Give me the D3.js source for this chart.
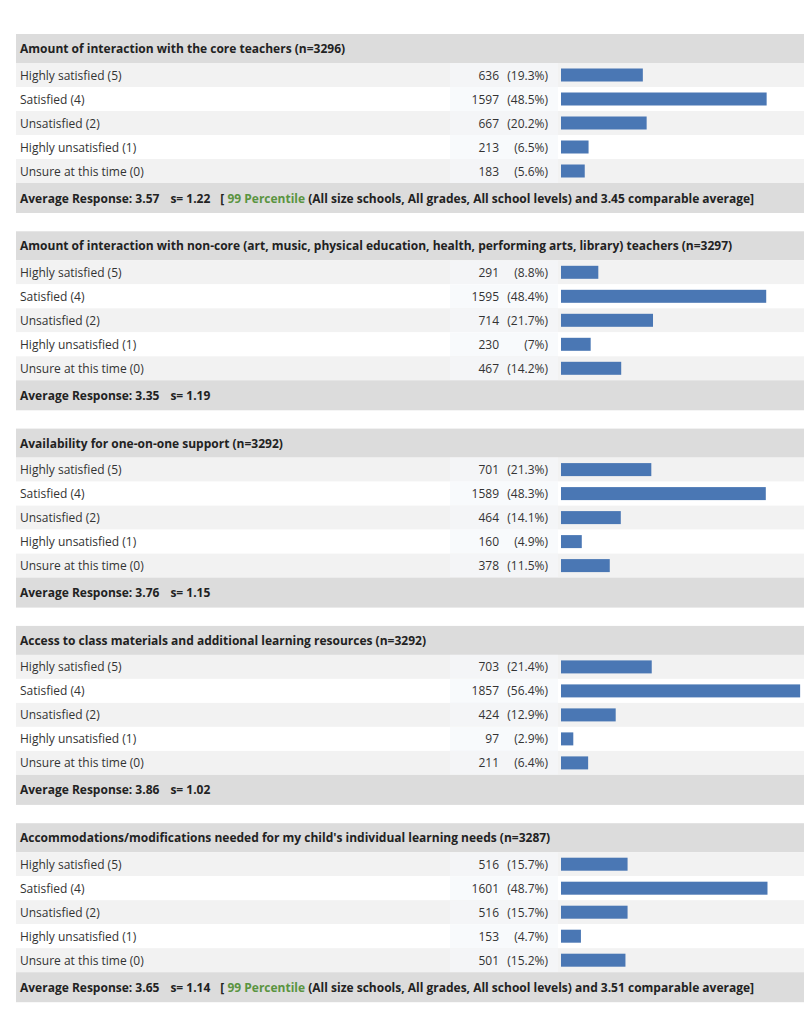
<!DOCTYPE html>
<html>
<head>
<meta charset="utf-8">
<script src="https://cdn.jsdelivr.net/npm/d3@7"></script>
<style>
  body {margin:0; background:#fff;}
  text {font-family:'Open Sans', sans-serif; font-size:12px; fill:#333;}
  .bold {font-weight:bold; fill:#222;}
</style>
</head>
<body>
<svg id="chart" width="804" height="1024"></svg>
<script>
// ---- data ----
var questions = [
  "Amount of interaction with the core teachers (n=3296)",
  "Amount of interaction with non-core (art, music, physical education, health, performing arts, library) teachers (n=3297)",
  "Availability for one-on-one support (n=3292)",
  "Access to class materials and additional learning resources (n=3292)",
  "Accommodations/modifications needed for my child's individual learning needs (n=3287)"
];
var answers = ["Highly satisfied (5)", "Satisfied (4)", "Unsatisfied (2)",
               "Highly unsatisfied (1)", "Unsure at this time (0)"];
var counts = [
  [636, 1597, 667, 213, 183],
  [291, 1595, 714, 230, 467],
  [701, 1589, 464, 160, 378],
  [703, 1857, 424, 97, 211],
  [516, 1601, 516, 153, 501]
];
var percents = [
  ["19.3", "48.5", "20.2", "6.5", "5.6"],
  ["8.8", "48.4", "21.7", "7", "14.2"],
  ["21.3", "48.3", "14.1", "4.9", "11.5"],
  ["21.4", "56.4", "12.9", "2.9", "6.4"],
  ["15.7", "48.7", "15.7", "4.7", "15.2"]
];
var averages = ["3.57", "3.35", "3.76", "3.86", "3.65"];
var sdevs = ["1.22", "1.19", "1.15", "1.02", "1.14"];
var percentiles = ["99", null, null, null, "99"];
var comparable = ["3.45", null, null, null, "3.51"];

// ---- layout ----
var svg = d3.select('#chart');
var left = 16, right = 804, top0 = 34, step = 197.3;
var headH = 29, rowH = 24, footH = 30;
var x = d3.scaleLinear().domain([0, 100]).range([561, 561 + 424]);

questions.forEach(function (q, i) {
  var g = svg.append('g').attr('transform', 'translate(0,' + (top0 + i * step) + ')');
  g.append('rect').attr('x', left).attr('y', 0).attr('width', right - left)
   .attr('height', headH).attr('fill', '#dcdcdc');
  g.append('text').attr('class', 'bold').attr('x', 20).attr('y', headH / 2 + 4.5).text(q);

  var y = d3.scaleBand().domain(d3.range(answers.length))
            .range([headH, headH + rowH * answers.length]);
  var rows = g.selectAll('.row').data(answers).enter().append('g')
              .attr('class', 'row')
              .attr('transform', function (d, j) { return 'translate(0,' + y(j) + ')'; });
  rows.append('rect').attr('x', left).attr('width', right - left).attr('height', rowH)
      .attr('fill', function (d, j) { return j % 2 === 0 ? '#f2f2f2' : '#ffffff'; });
  rows.append('rect').attr('x', 450).attr('width', 108).attr('height', rowH)
      .attr('fill', function (d, j) { return j % 2 === 0 ? '#f4f5f7' : '#f8fafc'; });
  rows.append('text').attr('x', 20).attr('y', rowH / 2 + 4.5).text(function (d) { return d; });
  rows.append('text').attr('x', 499).attr('y', rowH / 2 + 4.5).attr('text-anchor', 'end')
      .text(function (d, j) { return counts[i][j]; });
  rows.append('text').attr('x', 548).attr('y', rowH / 2 + 4.5).attr('text-anchor', 'end')
      .text(function (d, j) { return '(' + percents[i][j] + '%)'; });
  rows.append('rect').attr('x', x(0)).attr('y', (rowH - 13) / 2).attr('height', 13)
      .attr('width', function (d, j) { return x(+percents[i][j]) - x(0); })
      .attr('fill', '#4a77b4');

  var fy = headH + rowH * answers.length;
  g.append('rect').attr('x', left).attr('y', fy).attr('width', right - left)
   .attr('height', footH).attr('fill', '#dcdcdc');
  var t = g.append('text').attr('class', 'bold').attr('x', 20).attr('y', fy + footH / 2 + 4.5);
  t.append('tspan').text('Average Response: ' + averages[i]);
  t.append('tspan').attr('dx', 11).text('s= ' + sdevs[i]);
  if (percentiles[i]) {
    t.append('tspan').attr('dx', 10).text('[ ');
    t.append('tspan').attr('fill', '#5a9441').text(percentiles[i] + ' Percentile');
    t.append('tspan').text(' (All size schools, All grades, All school levels) and ' +
                           comparable[i] + ' comparable average]');
  }
});
</script>
</body>
</html>
